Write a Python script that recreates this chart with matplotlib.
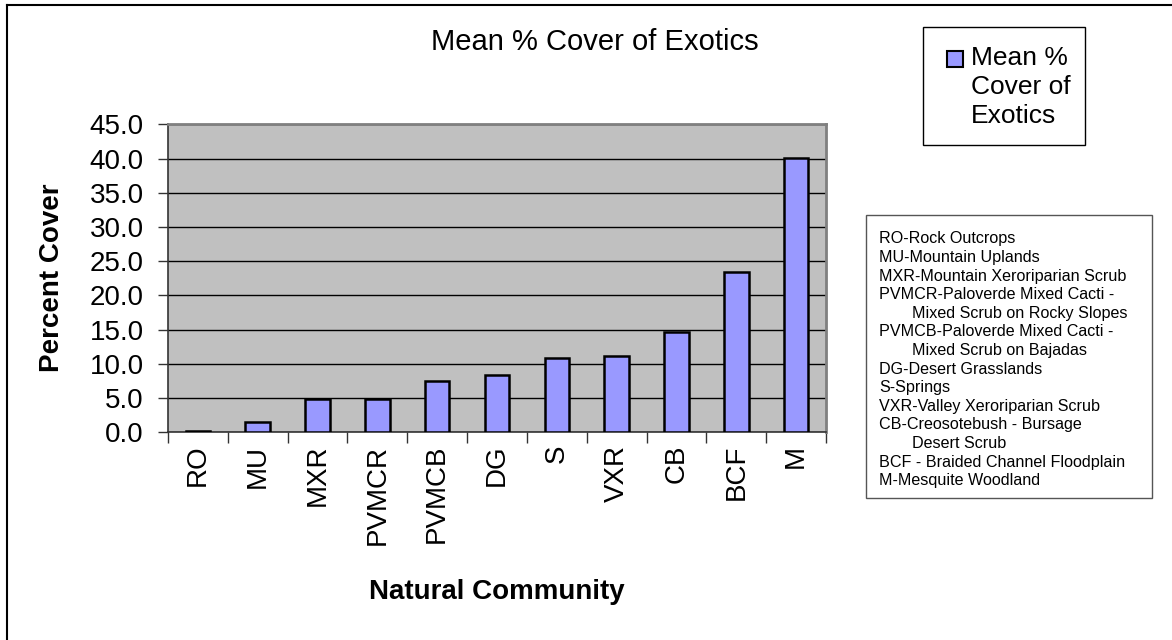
import matplotlib
matplotlib.use("Agg")
import matplotlib.pyplot as plt
from matplotlib.patches import Rectangle
from matplotlib.lines import Line2D

plt.rcParams['font.family'] = ['Liberation Sans', 'DejaVu Sans']

# Natural community codes and mean percent cover of exotic species
communities = ["RO", "MU", "MXR", "PVMCR", "PVMCB", "DG", "S", "VXR", "CB", "BCF", "M"]
mean_cover = [0.2, 1.5, 4.8, 4.9, 7.5, 8.4, 10.8, 11.2, 14.6, 23.4, 40.1]
y_ticks = [0, 5, 10, 15, 20, 25, 30, 35, 40, 45]

series_name = "Mean %\nCover of\nExotics"
key_lines = [
    ("RO-Rock Outcrops", 0),
    ("MU-Mountain Uplands", 0),
    ("MXR-Mountain Xeroriparian Scrub", 0),
    ("PVMCR-Paloverde Mixed Cacti -", 0),
    ("Mixed Scrub on Rocky Slopes", 1),
    ("PVMCB-Paloverde Mixed Cacti -", 0),
    ("Mixed Scrub on Bajadas", 1),
    ("DG-Desert Grasslands", 0),
    ("S-Springs", 0),
    ("VXR-Valley Xeroriparian Scrub", 0),
    ("CB-Creosotebush - Bursage", 0),
    ("Desert Scrub", 1),
    ("BCF - Braided Channel Floodplain", 0),
    ("M-Mesquite Woodland", 0),
]

W, H = 1172, 640
fig = plt.figure(figsize=(W / 100, H / 100), dpi=100)
fig.patch.set_facecolor("white")

def fx(px):
    return px / W

def fy(py):
    return 1 - py / H

bar_color = "#9999FF"

# Chart area border (left and top edges visible)
fig.add_artist(Line2D([fx(7), fx(7)], [fy(5), 0], transform=fig.transFigure, color="black", lw=1.5))
fig.add_artist(Line2D([fx(7), 1], [fy(5), fy(5)], transform=fig.transFigure, color="black", lw=1.5))

# Plot area
left, right, top, bottom = 168, 826, 124.3, 432.3
ax = fig.add_axes([fx(left), fy(bottom), fx(right - left), (bottom - top) / H])
ax.set_facecolor("#C0C0C0")

x = list(range(len(communities)))
ax.bar(x, mean_cover, width=0.41, color=bar_color, edgecolor="black", linewidth=1.8, zorder=3)

ax.set_xlim(-0.5, len(communities) - 0.5)
ax.set_ylim(0, 45)
ax.set_yticks(y_ticks)
ax.set_yticklabels([f"{v:.1f}" for v in y_ticks], fontsize=20)
ax.yaxis.grid(True, color="black", linewidth=1.0, zorder=1)
ax.set_axisbelow(True)

ax.set_xticks(x)
ax.set_xticklabels(communities, rotation=90, fontsize=20)
ax.tick_params(axis="x", length=0, pad=9)
ax.set_xticks([i - 0.5 for i in range(len(communities) + 1)], minor=True)
ax.tick_params(axis="x", which="minor", length=8, width=1, color="#333333")
ax.tick_params(axis="y", length=7.5, width=1, color="#333333", pad=10)

for side in ["top", "right"]:
    ax.spines[side].set_color("#808080")
    ax.spines[side].set_linewidth(2)
ax.spines["left"].set_color("#333333")
ax.spines["bottom"].set_color("#333333")
ax.spines["left"].set_linewidth(1.2)
ax.spines["bottom"].set_linewidth(1.2)

# Titles and axis labels
fig.text(fx(595), fy(42), "Mean % Cover of Exotics", ha="center", va="center", fontsize=21)
fig.text(fx(52), fy(278), "Percent Cover", ha="center", va="center", rotation=90,
         fontsize=20, fontweight="bold")
fig.text(fx(497), fy(592), "Natural Community", ha="center", va="center",
         fontsize=20, fontweight="bold")

# Series legend
fig.add_artist(Rectangle((fx(923), fy(145)), fx(1085 - 923), (145 - 27) / H,
                         transform=fig.transFigure, facecolor="white", edgecolor="black", lw=1))
fig.add_artist(Rectangle((fx(947), fy(67)), fx(16), 16 / H, transform=fig.transFigure,
                         facecolor=bar_color, edgecolor="black", lw=1.5))
fig.text(fx(971), fy(87), series_name, ha="left", va="center", fontsize=19, linespacing=1.25)

# Abbreviation key
fig.add_artist(Rectangle((fx(866), fy(498)), fx(1152 - 866), (498 - 215) / H,
                         transform=fig.transFigure, facecolor="white", edgecolor="#555555", lw=1))
for i, (line, indent) in enumerate(key_lines):
    xpos = 912 if indent else 879
    fig.text(fx(xpos), fy(239 + i * 18.6), line, ha="left", va="center", fontsize=11.6)

fig.savefig("out.png", dpi=100)
